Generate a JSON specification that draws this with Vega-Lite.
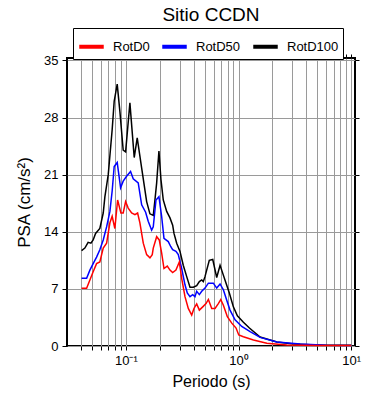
{
  "$schema": "https://vega.github.io/schema/vega-lite/v6.json",
  "width": 288,
  "height": 288,
  "autosize": {"type": "none"},
  "padding": {"left": 67, "top": 58, "right": 35, "bottom": 54},
  "background": "white",
  "config": {
    "font": "Liberation Sans",
    "view": {"stroke": "black", "strokeWidth": 2},
    "axis": {"domain": false, "gridColor": "#9a9a9a", "gridOpacity": 1, "gridWidth": 1, "tickColor": "black", "labelColor": "black", "titleColor": "black", "titleFontWeight": "normal"}
  },
  "title": {"text": "Sitio CCDN", "fontSize": 19, "fontWeight": "normal", "anchor": "middle", "offset": 3, "color": "black"},
  "data": {
    "values": [
      {"T": 0.0404, "s": "RotD100", "v": 11.7},
      {"T": 0.0432, "s": "RotD100", "v": 12.0},
      {"T": 0.0462, "s": "RotD100", "v": 12.7},
      {"T": 0.0489, "s": "RotD100", "v": 12.6},
      {"T": 0.0512, "s": "RotD100", "v": 13.0},
      {"T": 0.0538, "s": "RotD100", "v": 13.8},
      {"T": 0.0587, "s": "RotD100", "v": 14.4},
      {"T": 0.0629, "s": "RotD100", "v": 16.3},
      {"T": 0.0651, "s": "RotD100", "v": 18.3},
      {"T": 0.0697, "s": "RotD100", "v": 21.0},
      {"T": 0.0755, "s": "RotD100", "v": 26.5},
      {"T": 0.0787, "s": "RotD100", "v": 30.0},
      {"T": 0.0837, "s": "RotD100", "v": 32.1},
      {"T": 0.0885, "s": "RotD100", "v": 28.7},
      {"T": 0.0946, "s": "RotD100", "v": 24.0},
      {"T": 0.0994, "s": "RotD100", "v": 23.8},
      {"T": 0.1085, "s": "RotD100", "v": 29.8},
      {"T": 0.1185, "s": "RotD100", "v": 23.1},
      {"T": 0.1260, "s": "RotD100", "v": 25.5},
      {"T": 0.1380, "s": "RotD100", "v": 21.8},
      {"T": 0.1528, "s": "RotD100", "v": 17.7},
      {"T": 0.1634, "s": "RotD100", "v": 16.2},
      {"T": 0.1749, "s": "RotD100", "v": 16.0},
      {"T": 0.1810, "s": "RotD100", "v": 17.9},
      {"T": 0.1875, "s": "RotD100", "v": 20.0},
      {"T": 0.1964, "s": "RotD100", "v": 23.9},
      {"T": 0.2047, "s": "RotD100", "v": 20.4},
      {"T": 0.2146, "s": "RotD100", "v": 17.9},
      {"T": 0.2301, "s": "RotD100", "v": 16.5},
      {"T": 0.2461, "s": "RotD100", "v": 15.7},
      {"T": 0.2600, "s": "RotD100", "v": 14.8},
      {"T": 0.2672, "s": "RotD100", "v": 13.8},
      {"T": 0.2823, "s": "RotD100", "v": 12.6},
      {"T": 0.3020, "s": "RotD100", "v": 11.6},
      {"T": 0.3229, "s": "RotD100", "v": 9.9},
      {"T": 0.3465, "s": "RotD100", "v": 8.5},
      {"T": 0.3706, "s": "RotD100", "v": 7.2},
      {"T": 0.3965, "s": "RotD100", "v": 7.2},
      {"T": 0.4248, "s": "RotD100", "v": 7.4},
      {"T": 0.4486, "s": "RotD100", "v": 7.9},
      {"T": 0.4710, "s": "RotD100", "v": 8.1},
      {"T": 0.4864, "s": "RotD100", "v": 7.9},
      {"T": 0.5036, "s": "RotD100", "v": 8.5},
      {"T": 0.5212, "s": "RotD100", "v": 9.3},
      {"T": 0.5496, "s": "RotD100", "v": 10.5},
      {"T": 0.5900, "s": "RotD100", "v": 10.6},
      {"T": 0.6397, "s": "RotD100", "v": 8.4},
      {"T": 0.6850, "s": "RotD100", "v": 9.9},
      {"T": 0.7240, "s": "RotD100", "v": 8.9},
      {"T": 0.7743, "s": "RotD100", "v": 7.7},
      {"T": 0.8280, "s": "RotD100", "v": 6.5},
      {"T": 0.8990, "s": "RotD100", "v": 4.8},
      {"T": 0.9760, "s": "RotD100", "v": 3.7},
      {"T": 1.104, "s": "RotD100", "v": 2.9},
      {"T": 1.248, "s": "RotD100", "v": 2.2},
      {"T": 1.553, "s": "RotD100", "v": 1.1},
      {"T": 2.188, "s": "RotD100", "v": 0.5},
      {"T": 3.07, "s": "RotD100", "v": 0.25},
      {"T": 4.32, "s": "RotD100", "v": 0.15},
      {"T": 6.0, "s": "RotD100", "v": 0.1},
      {"T": 10.0, "s": "RotD100", "v": 0.08},

      {"T": 0.0404, "s": "RotD50", "v": 8.3},
      {"T": 0.0448, "s": "RotD50", "v": 8.3},
      {"T": 0.0479, "s": "RotD50", "v": 9.3},
      {"T": 0.0512, "s": "RotD50", "v": 10.1},
      {"T": 0.0549, "s": "RotD50", "v": 10.9},
      {"T": 0.0587, "s": "RotD50", "v": 11.8},
      {"T": 0.0629, "s": "RotD50", "v": 13.0},
      {"T": 0.0674, "s": "RotD50", "v": 14.6},
      {"T": 0.0721, "s": "RotD50", "v": 16.5},
      {"T": 0.0755, "s": "RotD50", "v": 19.0},
      {"T": 0.0787, "s": "RotD50", "v": 22.0},
      {"T": 0.0837, "s": "RotD50", "v": 22.5},
      {"T": 0.0897, "s": "RotD50", "v": 19.4},
      {"T": 0.0946, "s": "RotD50", "v": 20.2},
      {"T": 0.1014, "s": "RotD50", "v": 20.8},
      {"T": 0.1100, "s": "RotD50", "v": 21.4},
      {"T": 0.1161, "s": "RotD50", "v": 20.5},
      {"T": 0.1286, "s": "RotD50", "v": 20.0},
      {"T": 0.1380, "s": "RotD50", "v": 17.3},
      {"T": 0.1496, "s": "RotD50", "v": 16.4},
      {"T": 0.1578, "s": "RotD50", "v": 15.3},
      {"T": 0.1692, "s": "RotD50", "v": 14.2},
      {"T": 0.1749, "s": "RotD50", "v": 14.6},
      {"T": 0.1849, "s": "RotD50", "v": 17.9},
      {"T": 0.1964, "s": "RotD50", "v": 18.3},
      {"T": 0.2075, "s": "RotD50", "v": 15.9},
      {"T": 0.2177, "s": "RotD50", "v": 13.2},
      {"T": 0.2377, "s": "RotD50", "v": 12.8},
      {"T": 0.2496, "s": "RotD50", "v": 12.2},
      {"T": 0.2600, "s": "RotD50", "v": 11.8},
      {"T": 0.2780, "s": "RotD50", "v": 11.6},
      {"T": 0.2917, "s": "RotD50", "v": 11.2},
      {"T": 0.3126, "s": "RotD50", "v": 9.5},
      {"T": 0.3345, "s": "RotD50", "v": 7.5},
      {"T": 0.3505, "s": "RotD50", "v": 6.5},
      {"T": 0.3706, "s": "RotD50", "v": 6.05},
      {"T": 0.3917, "s": "RotD50", "v": 6.3},
      {"T": 0.4103, "s": "RotD50", "v": 6.05},
      {"T": 0.4248, "s": "RotD50", "v": 6.7},
      {"T": 0.4486, "s": "RotD50", "v": 6.3},
      {"T": 0.4710, "s": "RotD50", "v": 6.7},
      {"T": 0.5036, "s": "RotD50", "v": 7.1},
      {"T": 0.5395, "s": "RotD50", "v": 7.7},
      {"T": 0.5970, "s": "RotD50", "v": 7.7},
      {"T": 0.6397, "s": "RotD50", "v": 7.1},
      {"T": 0.6850, "s": "RotD50", "v": 7.6},
      {"T": 0.7330, "s": "RotD50", "v": 6.9},
      {"T": 0.7852, "s": "RotD50", "v": 5.6},
      {"T": 0.8396, "s": "RotD50", "v": 4.4},
      {"T": 0.9310, "s": "RotD50", "v": 3.2},
      {"T": 1.067, "s": "RotD50", "v": 2.4},
      {"T": 1.265, "s": "RotD50", "v": 1.75},
      {"T": 1.553, "s": "RotD50", "v": 1.06},
      {"T": 2.188, "s": "RotD50", "v": 0.5},
      {"T": 3.52, "s": "RotD50", "v": 0.25},
      {"T": 6.0, "s": "RotD50", "v": 0.1},
      {"T": 10.0, "s": "RotD50", "v": 0.06},

      {"T": 0.0404, "s": "RotD0", "v": 7.08},
      {"T": 0.0448, "s": "RotD0", "v": 7.08},
      {"T": 0.0479, "s": "RotD0", "v": 8.1},
      {"T": 0.0512, "s": "RotD0", "v": 9.1},
      {"T": 0.0549, "s": "RotD0", "v": 10.1},
      {"T": 0.0587, "s": "RotD0", "v": 10.3},
      {"T": 0.0629, "s": "RotD0", "v": 12.0},
      {"T": 0.0674, "s": "RotD0", "v": 12.6},
      {"T": 0.0721, "s": "RotD0", "v": 15.1},
      {"T": 0.0755, "s": "RotD0", "v": 15.9},
      {"T": 0.0798, "s": "RotD0", "v": 14.4},
      {"T": 0.0844, "s": "RotD0", "v": 17.9},
      {"T": 0.0903, "s": "RotD0", "v": 16.3},
      {"T": 0.0946, "s": "RotD0", "v": 16.3},
      {"T": 0.0994, "s": "RotD0", "v": 17.7},
      {"T": 0.1048, "s": "RotD0", "v": 16.9},
      {"T": 0.1124, "s": "RotD0", "v": 16.3},
      {"T": 0.1202, "s": "RotD0", "v": 16.1},
      {"T": 0.1270, "s": "RotD0", "v": 16.3},
      {"T": 0.1331, "s": "RotD0", "v": 15.1},
      {"T": 0.1426, "s": "RotD0", "v": 12.6},
      {"T": 0.1528, "s": "RotD0", "v": 11.2},
      {"T": 0.1634, "s": "RotD0", "v": 10.8},
      {"T": 0.1713, "s": "RotD0", "v": 11.2},
      {"T": 0.1749, "s": "RotD0", "v": 12.0},
      {"T": 0.1875, "s": "RotD0", "v": 13.4},
      {"T": 0.1977, "s": "RotD0", "v": 13.0},
      {"T": 0.2075, "s": "RotD0", "v": 11.4},
      {"T": 0.2177, "s": "RotD0", "v": 9.5},
      {"T": 0.2329, "s": "RotD0", "v": 9.8},
      {"T": 0.2461, "s": "RotD0", "v": 9.3},
      {"T": 0.2600, "s": "RotD0", "v": 9.0},
      {"T": 0.2780, "s": "RotD0", "v": 9.3},
      {"T": 0.2978, "s": "RotD0", "v": 10.3},
      {"T": 0.3126, "s": "RotD0", "v": 8.3},
      {"T": 0.3345, "s": "RotD0", "v": 6.05},
      {"T": 0.3579, "s": "RotD0", "v": 4.6},
      {"T": 0.3837, "s": "RotD0", "v": 3.8},
      {"T": 0.4019, "s": "RotD0", "v": 4.6},
      {"T": 0.4248, "s": "RotD0", "v": 5.15},
      {"T": 0.4486, "s": "RotD0", "v": 4.4},
      {"T": 0.4808, "s": "RotD0", "v": 4.8},
      {"T": 0.5140, "s": "RotD0", "v": 5.2},
      {"T": 0.5395, "s": "RotD0", "v": 5.7},
      {"T": 0.5777, "s": "RotD0", "v": 4.6},
      {"T": 0.6180, "s": "RotD0", "v": 4.6},
      {"T": 0.6613, "s": "RotD0", "v": 5.2},
      {"T": 0.6950, "s": "RotD0", "v": 5.7},
      {"T": 0.7330, "s": "RotD0", "v": 5.0},
      {"T": 0.7950, "s": "RotD0", "v": 3.6},
      {"T": 0.8700, "s": "RotD0", "v": 2.8},
      {"T": 0.9500, "s": "RotD0", "v": 2.2},
      {"T": 1.004, "s": "RotD0", "v": 1.35},
      {"T": 1.104, "s": "RotD0", "v": 1.14},
      {"T": 1.355, "s": "RotD0", "v": 0.74},
      {"T": 1.782, "s": "RotD0", "v": 0.33},
      {"T": 2.68, "s": "RotD0", "v": 0.12},
      {"T": 5.0, "s": "RotD0", "v": 0.07},
      {"T": 10.0, "s": "RotD0", "v": 0.05}
    ]
  },
  "layer": [
    {
      "mark": {"type": "line", "opacity": 0},
      "encoding": {
        "x": {"field": "T", "type": "quantitative", "scale": {"type": "log", "domain": [0.03, 10.8], "nice": false},
          "axis": {"orient": "top", "values": [0.04,0.05,0.06,0.07,0.08,0.09,0.1,0.2,0.3,0.4,0.5,0.6,0.7,0.8,0.9,1,2,3,4,5,6,7,8,9,10], "labels": false, "grid": false, "tickSize": 4, "title": null}},
        "y": {"field": "v", "type": "quantitative", "scale": {"domain": [0, 35.3], "nice": false},
          "axis": {"orient": "right", "values": [0,7,14,21,28,35], "labels": false, "grid": false, "tickSize": 4, "title": null}},
        "detail": {"field": "s"}
      }
    },
    {
      "mark": {"type": "line", "strokeWidth": 1.5},
      "encoding": {
        "x": {"field": "T", "type": "quantitative", "scale": {"type": "log", "domain": [0.03, 10.8], "nice": false},
          "axis": {"orient": "bottom", "values": [0.04,0.05,0.06,0.07,0.08,0.09,0.1,0.2,0.3,0.4,0.5,0.6,0.7,0.8,0.9,1,2,3,4,5,6,7,8,9,10], "grid": true, "tickSize": 4, "labelFontSize": 13, "labelPadding": 4, "labelExpr": "datum.value == 0.1 ? '10⁻¹' : datum.value == 1 ? '10⁰' : datum.value == 10 ? '10¹' : ''", "title": "Periodo (s)", "titleFontSize": 16, "titlePadding": 6}},
        "y": {"field": "v", "type": "quantitative", "scale": {"domain": [0, 35.3], "nice": false},
          "axis": {"orient": "left", "values": [0,7,14,21,28,35], "grid": true, "tickSize": 5, "labelFontSize": 13, "labelPadding": 4, "title": "PSA (cm/s²)", "titleFontSize": 17, "titlePadding": 10}},
        "color": {"field": "s", "type": "nominal",
          "scale": {"domain": ["RotD0", "RotD50", "RotD100"], "range": ["#ff0000", "#0000ff", "#000000"]},
          "legend": {"title": null, "orient": "none", "legendX": 6, "legendY": -30, "direction": "horizontal", "symbolType": "stroke", "symbolSize": 600, "symbolStrokeWidth": 4, "labelFontSize": 13, "labelOffset": 7, "columnPadding": 4, "padding": 4, "strokeColor": "black", "fillColor": "white"}},
        "order": {"field": "T", "type": "quantitative"}
      }
    }
  ],
  "resolve": {"axis": {"x": "independent", "y": "independent"}}
}
